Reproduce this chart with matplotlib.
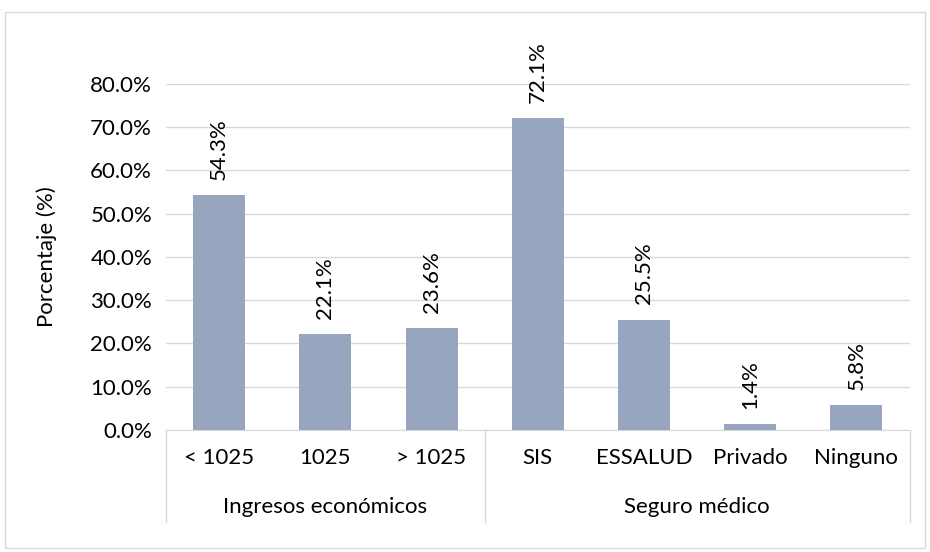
import matplotlib.pyplot as plt
import numpy as np

categorias = ['< 1025', '1025', '> 1025', 'SIS', 'ESSALUD', 'Privado', 'Ninguno']
valores = [54.3, 22.1, 23.6, 72.1, 25.5, 1.4, 5.8]
grupos = ['Ingresos económicos', 'Seguro médico']
tamanos_grupo = [3, 4]
yticks = [0, 10, 20, 30, 40, 50, 60, 70, 80]

FS = 16
plt.rcParams['font.family'] = ['Lato', 'DejaVu Sans']
plt.rcParams['font.size'] = FS

fig = plt.figure(figsize=(9.3, 5.52), dpi=100)
ax = fig.add_axes([0.1785, 0.221, 0.7995, 0.627])

x = np.arange(len(categorias))
bars = ax.bar(x, valores, width=0.49, color='#97A6BE', zorder=3)

for xi, v in zip(x, valores):
    ax.annotate('%.1f%%' % v, (xi, v), xytext=(0, 11), textcoords='offset points',
                rotation=90, ha='center', va='bottom', fontsize=FS, color='#000000',
                annotation_clip=False)

ax.set_xlim(-0.5, len(categorias) - 0.5)
ax.set_ylim(0, 80)
ax.set_yticks(yticks)
ax.set_yticklabels(['%.1f%%' % t for t in yticks])
ax.yaxis.grid(True, color='#D9D9D9', linewidth=1, zorder=0)
ax.tick_params(axis='y', length=0, pad=10, labelsize=FS)
ax.set_xticks(x)
ax.set_xticklabels(categorias)
ax.tick_params(axis='x', length=0, pad=13, labelsize=FS)
for s in ['top', 'right', 'left']:
    ax.spines[s].set_visible(False)
ax.spines['bottom'].set_color('#D9D9D9')
ax.set_ylabel('Porcentaje (%)', fontsize=FS)
ax.yaxis.set_label_coords(-0.147, 0.5)

# separadores de grupo y etiquetas
trans = ax.get_xaxis_transform()
bordes = [-0.5]
for n in tamanos_grupo:
    bordes.append(bordes[-1] + n)
for b in bordes:
    ax.plot([b, b], [0, -0.266], transform=trans, color='#D9D9D9', lw=1, clip_on=False)
for i, g in enumerate(grupos):
    centro = (bordes[i] + bordes[i + 1]) / 2
    ax.text(centro, -0.222, g, transform=trans, ha='center', va='center', fontsize=FS)

# borde exterior
fig.patches.append(plt.Rectangle((5 / 930, 4 / 552), 920 / 930, 536 / 552,
                                 transform=fig.transFigure, fill=False,
                                 edgecolor='#D9D9D9', lw=1))

plt.savefig('out.png', dpi=100)
